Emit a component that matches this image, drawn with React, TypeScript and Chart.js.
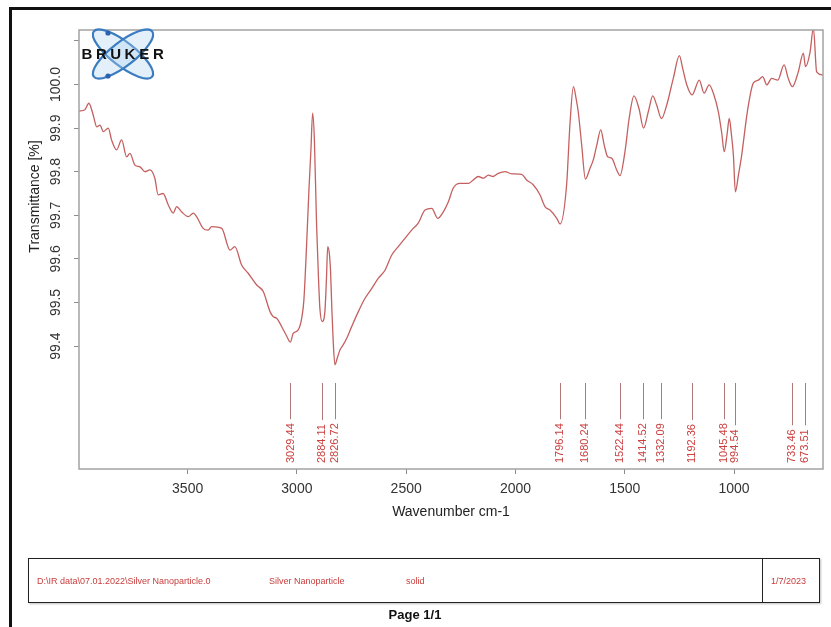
import React, { useEffect, useRef } from 'react';
import { Chart, registerables } from 'chart.js';

Chart.register(...registerables);

const FONT = "'Liberation Sans', Arial, sans-serif";

// Spectrum (wavenumber cm-1, transmittance %)
const wavenumbers = [
  3997, 3970, 3952, 3932, 3916, 3901, 3886, 3863, 3848, 3825, 3802, 3779, 3764, 3741, 3718, 3695,
  3673, 3650, 3635, 3612, 3589, 3566, 3550, 3528, 3497, 3474, 3459, 3429, 3406, 3390, 3344, 3306,
  3284, 3253, 3223, 3184, 3154, 3123, 3108, 3093, 3070, 3050, 3030, 3017, 2994, 2978, 2968, 2955,
  2945, 2936, 2928, 2920, 2910, 2901, 2895, 2884, 2872, 2865, 2859, 2851, 2846, 2840, 2834, 2826,
  2815, 2803, 2789, 2772, 2750, 2719, 2689, 2658, 2628, 2597, 2566, 2536, 2506, 2475, 2445, 2414,
  2383, 2356, 2330, 2307, 2285, 2254, 2216, 2193, 2170, 2147, 2124, 2102, 2079, 2048, 2017, 1972,
  1949, 1919, 1888, 1865, 1842, 1811, 1796, 1766, 1751, 1735, 1723, 1713, 1697, 1680, 1659, 1644,
  1628, 1610, 1594, 1578, 1560, 1537, 1522, 1499, 1480, 1458, 1435, 1414, 1392, 1372, 1354, 1332,
  1308, 1278, 1250, 1235, 1216, 1192, 1159, 1137, 1114, 1092, 1072, 1057, 1045, 1032, 1022, 1012,
  1003, 994, 980, 965, 939, 912, 889, 869, 850, 828, 800, 771, 752, 733, 706, 683,
  673, 652, 637, 622, 594,
];
const transmittance = [
  99.939, 99.942, 99.957, 99.930, 99.903, 99.907, 99.892, 99.900, 99.873, 99.850, 99.873, 99.834, 99.842, 99.815, 99.811, 99.800,
  99.804, 99.785, 99.747, 99.750, 99.724, 99.705, 99.720, 99.708, 99.697, 99.705, 99.697, 99.670, 99.666, 99.674, 99.670, 99.620,
  99.628, 99.586, 99.567, 99.540, 99.525, 99.479, 99.467, 99.464, 99.445, 99.426, 99.409, 99.429, 99.437, 99.464, 99.506, 99.640,
  99.758, 99.849, 99.934, 99.873, 99.678, 99.552, 99.487, 99.456, 99.479, 99.552, 99.628, 99.609, 99.571, 99.483, 99.411, 99.357,
  99.373, 99.391, 99.402, 99.418, 99.444, 99.479, 99.509, 99.532, 99.555, 99.574, 99.609, 99.628, 99.647, 99.666, 99.682, 99.712,
  99.716, 99.693, 99.708, 99.731, 99.762, 99.773, 99.773, 99.781, 99.789, 99.785, 99.792, 99.789, 99.796, 99.800, 99.795, 99.794,
  99.781, 99.770, 99.747, 99.720, 99.712, 99.693, 99.680, 99.770, 99.907, 99.995, 99.969, 99.938, 99.861, 99.783, 99.808, 99.827,
  99.861, 99.896, 99.861, 99.834, 99.831, 99.804, 99.791, 99.846, 99.922, 99.974, 99.945, 99.900, 99.938, 99.974, 99.953, 99.922,
  99.953, 100.014, 100.066, 100.037, 99.999, 99.976, 100.010, 99.980, 99.999, 99.976, 99.938, 99.891, 99.846, 99.885, 99.922, 99.885,
  99.838, 99.754, 99.792, 99.838, 99.938, 100.003, 100.010, 100.018, 99.999, 100.014, 100.010, 100.045, 100.014, 99.995, 100.029, 100.072,
  100.041, 100.075, 100.13, 100.029, 100.022,
];

const xTickValues = [3500, 3000, 2500, 2000, 1500, 1000];
const yTickValues = [99.4, 99.5, 99.6, 99.7, 99.8, 99.9, 100.0, 100.1];
const yTickLabels = ['99.4', '99.5', '99.6', '99.7', '99.8', '99.9', '100.0', ''];

const peakPositions = [
  3029.44, 2884.11, 2826.72, 1796.14, 1680.24, 1522.44, 1414.52, 1332.09, 1192.36, 1045.48, 994.54, 733.46, 673.51,
];
const peakLabels = [
  '3029.44', '2884.11', '2826.72', '1796.14', '1680.24', '1522.44', '1414.52', '1332.09', '1192.36', '1045.48', '994.54', '733.46', '673.51',
];

const X_MIN = 593;
const X_MAX = 3997;
const Y_MIN = 99.118;
const Y_MAX = 100.125;

const footerFields = ['D:\\IR data\\07.01.2022\\Silver Nanoparticle.0', 'Silver Nanoparticle', 'solid'];
const footerDate = '1/7/2023';

const decorPlugin = {
  id: 'decor',
  afterDraw(chart: any) {
    const { ctx, chartArea: a, scales } = chart;
    const xs = scales.x;
    const ys = scales.y;
    ctx.save();

    // plot box
    ctx.strokeStyle = '#a3a3a3';
    ctx.lineWidth = 1.5;
    ctx.strokeRect(a.left, a.top, a.right - a.left, a.bottom - a.top);

    // y tick labels (rotated, parallel to axis)
    ctx.fillStyle = '#333';
    ctx.font = `14px ${FONT}`;
    ctx.textAlign = 'center';
    ctx.textBaseline = 'middle';
    yTickValues.forEach((v, i) => {
      const lab = yTickLabels[i];
      if (!lab) return;
      const y = ys.getPixelForValue(v);
      ctx.save();
      ctx.translate(a.left - 23, y);
      ctx.rotate(-Math.PI / 2);
      ctx.fillText(lab, 0, 0);
      ctx.restore();
    });

    // y title
    const yMid = (ys.getPixelForValue(yTickValues[0]) + ys.getPixelForValue(yTickValues[yTickValues.length - 1])) / 2 + 3;
    ctx.save();
    ctx.translate(a.left - 44, yMid);
    ctx.rotate(-Math.PI / 2);
    ctx.fillStyle = '#222';
    ctx.fillText('Transmittance [%]', 0, 0);
    ctx.restore();

    // peak labels
    ctx.font = `11px ${FONT}`;
    peakPositions.forEach((p, i) => {
      const x = xs.getPixelForValue(p);
      const lab = peakLabels[i];
      const L = ctx.measureText(lab).width;
      ctx.strokeStyle = 'rgb(176,120,120)';
      ctx.lineWidth = 1;
      ctx.beginPath();
      ctx.moveTo(Math.round(x) + 0.5, a.bottom - 86);
      ctx.lineTo(Math.round(x) + 0.5, a.bottom - 10 - L);
      ctx.stroke();
      ctx.save();
      ctx.translate(x, a.bottom - 6);
      ctx.rotate(-Math.PI / 2);
      ctx.textAlign = 'left';
      ctx.textBaseline = 'middle';
      ctx.fillStyle = 'rgb(204,64,64)';
      ctx.fillText(lab, 0, 0);
      ctx.restore();
    });

    // Bruker logo
    const cx = a.left + 44;
    const cy = a.top + 24;
    ctx.lineWidth = 2.2;
    ctx.strokeStyle = '#3b7cc0';
    ctx.fillStyle = 'rgba(175,212,240,0.35)';
    [0.66, -0.66].forEach((rot) => {
      ctx.beginPath();
      ctx.ellipse(cx, cy, 37, 12, rot, 0, Math.PI * 2);
      ctx.fill();
      ctx.stroke();
    });
    ctx.fillStyle = '#2a62b0';
    [[cx - 15, cy - 21], [cx - 15, cy + 22]].forEach(([px, py]) => {
      ctx.beginPath();
      ctx.arc(px, py, 2.6, 0, Math.PI * 2);
      ctx.fill();
    });
    ctx.fillStyle = '#111';
    ctx.font = `bold 15px ${FONT}`;
    ctx.textAlign = 'center';
    ctx.textBaseline = 'middle';
    'BRUKER'.split('').forEach((ch, i) => {
      ctx.fillText(ch, a.left + 8 + i * 14.3, cy + 1);
    });

    ctx.restore();
  },
};

export default function App() {
  const ref = useRef<HTMLCanvasElement>(null);

  useEffect(() => {
    if (!ref.current) return;
    const chart = new Chart(ref.current, {
      type: 'line',
      data: {
        datasets: [
          {
            data: wavenumbers.map((w, i) => ({ x: w, y: transmittance[i] })),
            borderColor: 'rgb(196,96,96)',
            borderWidth: 1.3,
            pointRadius: 0,
            fill: false,
            cubicInterpolationMode: 'monotone',
          },
        ],
      },
      options: {
        responsive: false,
        maintainAspectRatio: false,
        devicePixelRatio: 1,
        animation: false,
        events: [],
        layout: { padding: { left: 0, top: 30, right: 8, bottom: 98 } },
        plugins: { legend: { display: false }, tooltip: { enabled: false } },
        scales: {
          x: {
            type: 'linear',
            reverse: true,
            min: X_MIN,
            max: X_MAX,
            afterBuildTicks: (s: any) => {
              s.ticks = xTickValues.map((v) => ({ value: v }));
            },
            afterFit: (s: any) => {
              s.height = 60;
            },
            ticks: {
              autoSkip: false,
              maxRotation: 0,
              minRotation: 0,
              padding: 7,
              color: '#333',
              font: { family: FONT, size: 14 },
              callback: (v: any) => String(v),
            },
            grid: { drawOnChartArea: false, drawTicks: true, tickLength: 5, color: '#8c8c8c' },
            border: { display: false },
            title: {
              display: true,
              text: 'Wavenumber cm-1',
              color: '#222',
              font: { family: FONT, size: 14 },
              padding: { top: 0, bottom: 8 },
            },
          },
          y: {
            type: 'linear',
            min: Y_MIN,
            max: Y_MAX,
            afterBuildTicks: (s: any) => {
              s.ticks = yTickValues.map((v) => ({ value: v }));
            },
            afterFit: (s: any) => {
              s.width = 79;
            },
            ticks: { display: false },
            grid: { drawOnChartArea: false, drawTicks: true, tickLength: 5, color: '#8c8c8c' },
            border: { display: false },
          },
        },
      },
      plugins: [decorPlugin],
    } as any);
    return () => chart.destroy();
  }, []);

  const footText: React.CSSProperties = {
    position: 'absolute',
    top: 16,
    fontFamily: FONT,
    fontSize: 9,
    lineHeight: '12px',
    color: 'rgb(200,60,60)',
    whiteSpace: 'nowrap',
  };
  const fieldLefts = [8, 240, 377];

  return (
    <div style={{ position: 'absolute', left: 0, top: 0, width: 831, height: 627, background: '#fff', overflow: 'hidden' }}>
      <canvas ref={ref} width={831} height={627} style={{ position: 'absolute', left: 0, top: 0, width: 831, height: 627 }} />
      <div style={{ position: 'absolute', left: 9, top: 7, width: 822, height: 2.5, background: '#111' }} />
      <div style={{ position: 'absolute', left: 9, top: 7, width: 2.5, height: 620, background: '#111' }} />
      <div
        style={{
          position: 'absolute',
          left: 28,
          top: 558,
          width: 792,
          height: 45,
          boxSizing: 'border-box',
          border: '1.5px solid #222',
          boxShadow: '1px 1px 2px rgba(0,0,0,0.25)',
        }}
      >
        <div style={{ position: 'absolute', left: 733, top: 0, bottom: 0, borderLeft: '1.5px solid #222' }} />
        {footerFields.map((t, i) => (
          <span key={i} style={{ ...footText, left: fieldLefts[i] }}>
            {t}
          </span>
        ))}
        <span style={{ ...footText, left: 742 }}>{footerDate}</span>
      </div>
      <div
        style={{
          position: 'absolute',
          left: 0,
          top: 607,
          width: 830,
          textAlign: 'center',
          fontFamily: FONT,
          fontWeight: 'bold',
          fontSize: 13,
          lineHeight: '16px',
          color: '#111',
        }}
      >
        Page 1/1
      </div>
    </div>
  );
}
